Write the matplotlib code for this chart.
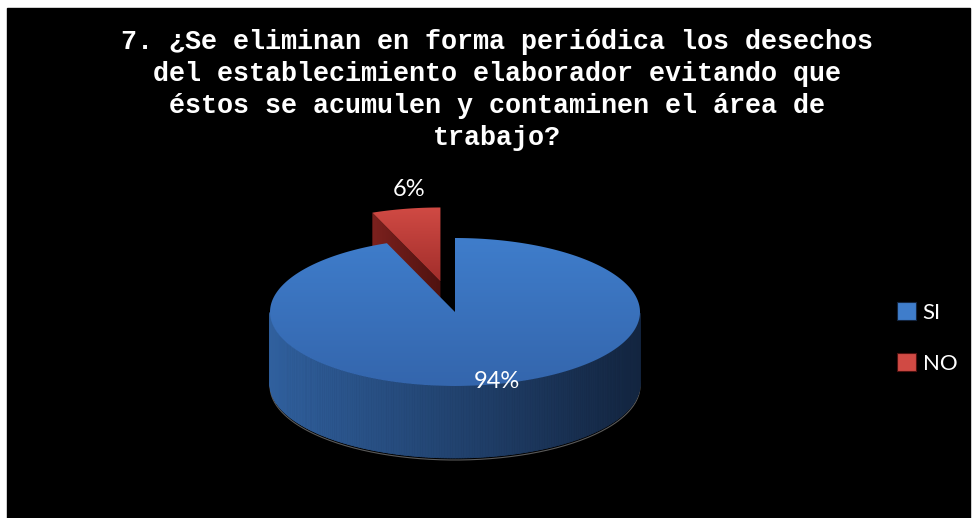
import numpy as np
import matplotlib.pyplot as plt
from matplotlib.patches import Polygon, Rectangle, Patch
from matplotlib.colors import to_rgb

labels = ['SI', 'NO']
values = [94, 6]
pct_labels = ['94%', '6%']
explode = [0.0, 0.42]
title = ('7. ¿Se eliminan en forma periódica los desechos\n'
         'del establecimiento elaborador evitando que\n'
         'éstos se acumulen y contaminen el área de\n'
         'trabajo?')

top_colors = [('#3f7dcb', '#3466ad'), ('#d04a44', '#a22e2b')]
side_colors = [('#30609e', '#132540'), ('#7c211e', '#4f1210')]
label_rx = [1.21, 0.9]
label_ry = [0.96, 1.26]

W, H = 973, 518
cx, cy = 455, 312       # centre of the top ellipse (px)
rx, ry = 185, 74
depth = 72

fig = plt.figure(figsize=(W / 100, H / 100), dpi=100)
fig.patch.set_facecolor('white')
ax = fig.add_axes([0, 0, 1, 1])
ax.axis('off')
ax.add_patch(Rectangle((7, 8), 963, 510, color='black', zorder=0))


def pt(a, ox, oy, dz=0.0):
    t = np.radians(a)
    return np.column_stack([ox + rx * np.cos(t), oy - ry * np.sin(t) + dz])


def mix(c0, c1, t):
    return tuple((1 - t) * np.array(to_rgb(c0)) + t * np.array(to_rgb(c1)))


def grad_fill(xy, c0, c1, horizontal=False, z=2):
    poly = Polygon(xy, closed=True, facecolor='none', edgecolor='none', zorder=z)
    ax.add_patch(poly)
    x0, y0 = xy.min(0)
    x1, y1 = xy.max(0)
    t = np.linspace(0, 1, 64)
    cols = np.array([mix(c0, c1, v) for v in t])
    img = cols[None, :, :] if horizontal else cols[:, None, :]
    im = ax.imshow(img, extent=(x0, x1, y1, y0), origin='upper',
                   aspect='auto', interpolation='bilinear', zorder=z)
    im.set_clip_path(poly)


# wedge angles, clockwise from 12 o'clock
total = sum(values)
wedges = []
start = 90.0
for v in values:
    sweep = 360.0 * v / total
    wedges.append((start - sweep, start))
    start -= sweep

# faint outline under the pie
a = np.linspace(165, 375, 200)
o = pt(a, cx, cy, depth + 2)
ax.plot(o[:, 0], o[:, 1], color='#5a5a5a', lw=0.8, zorder=1)

# draw back wedge (NO) first
for i in [1, 0]:
    t1, t2 = wedges[i]
    mid = np.radians((t1 + t2) / 2)
    ox = cx + explode[i] * rx * np.cos(mid)
    oy = cy - explode[i] * ry * np.sin(mid)
    z = 2 + (1 - i) * 5

    # outer wall (front half only)
    aa = np.linspace(t1, t2, 400)
    vis = aa[np.sin(np.radians(aa)) < 0]
    if len(vis) > 1:
        top = pt(vis, ox, oy)
        bot = pt(vis, ox, oy, depth)
        for k in range(len(vis) - 1):
            q = np.array([top[k], top[k + 1], bot[k + 1], bot[k]])
            f = (q[:, 0].mean() - (cx - rx)) / (2 * rx)
            c = mix(side_colors[i][0], side_colors[i][1], np.clip(f, 0, 1))
            ax.add_patch(Polygon(q, closed=True, facecolor=c, edgecolor=c,
                                 lw=0.6, zorder=z))

    # radial cut faces
    for ang, nrm in [(t1, t1 - 90), (t2, t2 + 90)]:
        if np.sin(np.radians(nrm)) < -1e-6:
            r_top = pt([ang], ox, oy)[0]
            r_bot = pt([ang], ox, oy, depth)[0]
            q = np.array([[ox, oy], r_top, r_bot, [ox, oy + depth]])
            grad_fill(q, side_colors[i][0], side_colors[i][1], horizontal=True, z=z + 1)

    # top face
    arc = pt(np.linspace(t1, t2, 300), ox, oy)
    face = np.vstack([[ox, oy], arc])
    grad_fill(face, top_colors[i][0], top_colors[i][1], z=z + 2)

    # percentage label
    la = pt([np.degrees(mid)], ox, oy)[0]
    lx = ox + label_rx[i] * (la[0] - ox)
    ly = oy + label_ry[i] * (la[1] - oy)
    ax.text(lx, ly, pct_labels[i], color='white', fontsize=17,
            family=['Lato', 'DejaVu Sans'], ha='center', va='center', zorder=20)

ax.text(497, 90, title, color='white', fontsize=19.3, fontweight='bold',
        family=['Liberation Mono', 'DejaVu Sans Mono'], ha='center', va='center',
        linespacing=1.29, zorder=20)

handles = [Patch(facecolor=top_colors[i][0], edgecolor=side_colors[i][1], lw=0.8)
           for i in range(len(labels))]
leg = fig.legend(handles, labels, loc='center left',
                 bbox_to_anchor=(877 / W, 1 - 338 / H), frameon=False,
                 labelcolor='white', handlelength=0.85,
                 handleheight=0.85, handletextpad=0.3, labelspacing=1.35,
                 prop={'family': ['Lato', 'DejaVu Sans'], 'size': 16})

ax.set_xlim(0, W)
ax.set_ylim(H, 0)
fig.savefig('out.png', dpi=100, facecolor=fig.get_facecolor())
